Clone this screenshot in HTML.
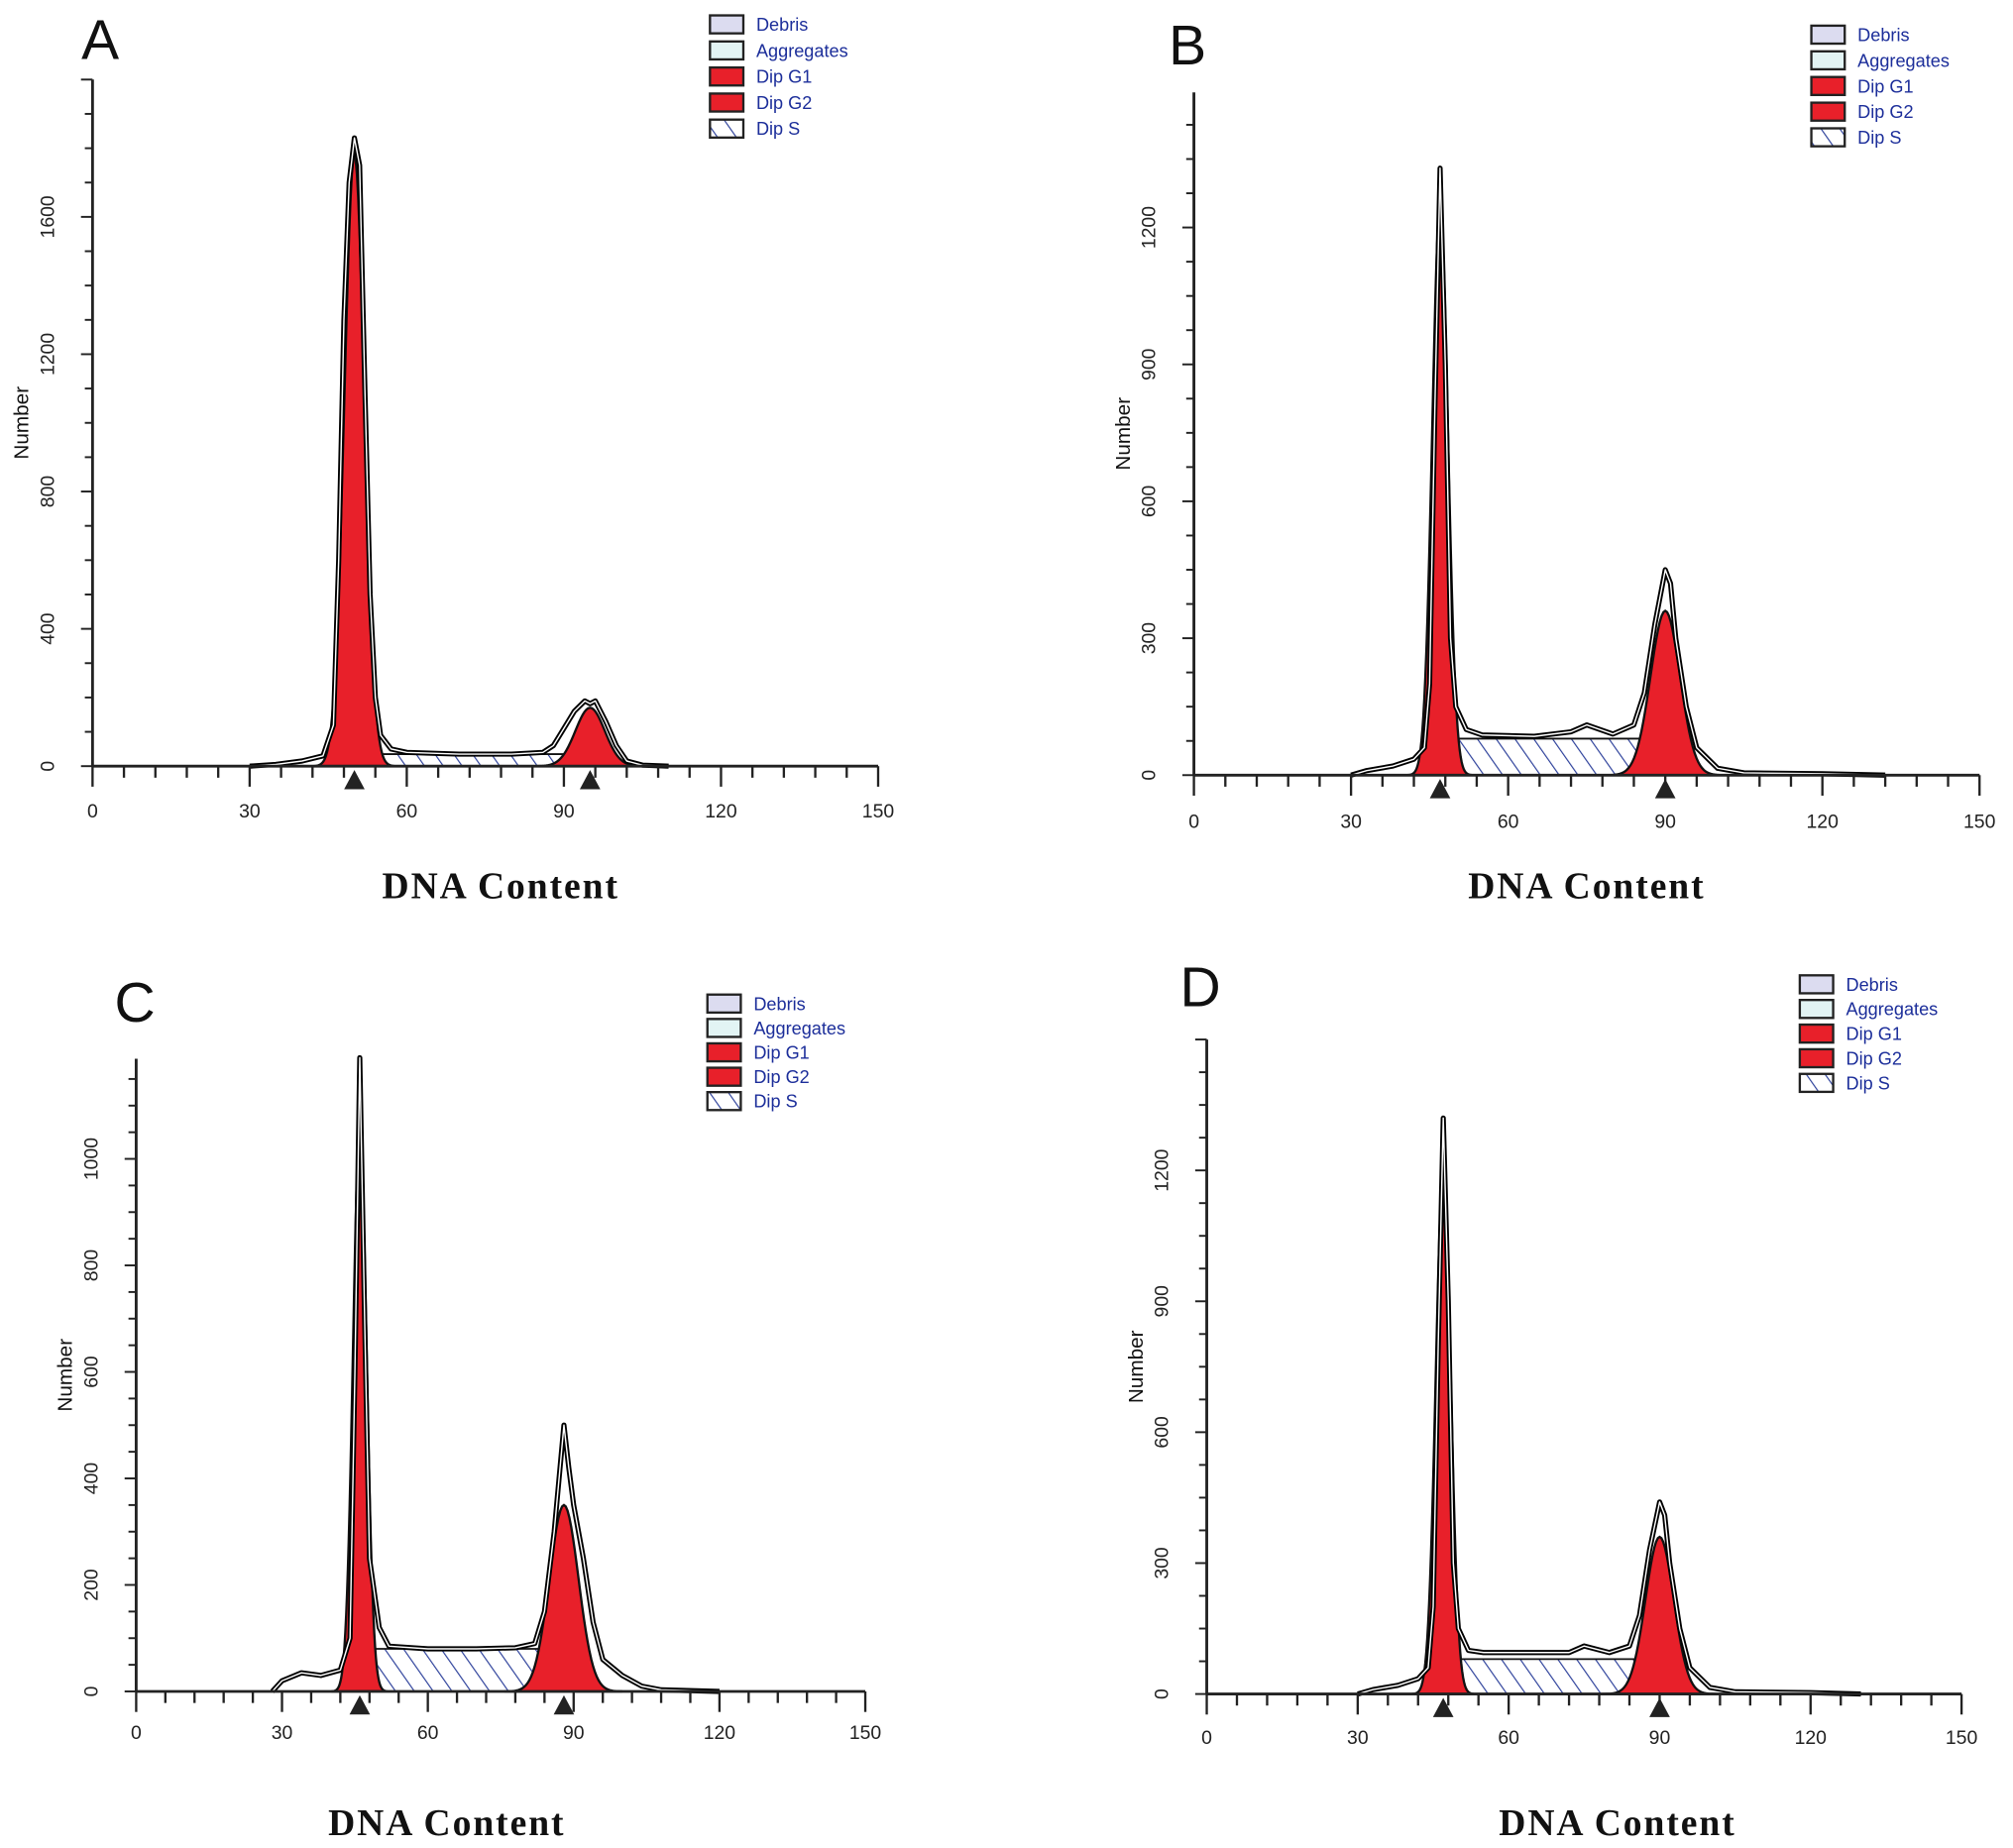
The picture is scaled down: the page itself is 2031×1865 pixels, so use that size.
<!DOCTYPE html>
<html><head><meta charset="utf-8">
<style>
html,body{margin:0;padding:0;background:#fff;}
svg{display:block;}
</style></head>
<body>
<svg id="fig" xmlns="http://www.w3.org/2000/svg" width="2031" height="1865" viewBox="0 0 1568 1440">
<defs>
<pattern id="hatch" patternUnits="userSpaceOnUse" width="12" height="12" patternTransform="rotate(-35)">
<rect width="12" height="12" fill="#fff"/>
<line x1="0" y1="0" x2="0" y2="12" stroke="#2b3f9a" stroke-width="1.8"/>
</pattern>
</defs>
</svg>
<script>
// ---- data ----
const panelIds = ['A','B','C','D'];
const xTicks = [0,30,60,90,120,150];
const yTicksA = [0,400,800,1200,1600];
const yTicksB = [0,300,600,900,1200];
const yTicksC = [0,200,400,600,800,1000];
const yTicksD = [0,300,600,900,1200];
const legendLabels = ['Debris','Aggregates','Dip G1','Dip G2','Dip S'];
// Gaussian fit parameters [mean, height, sd]
const g1A = [50,1780,1.9], g2A = [95,170,2.8], sA = [52,92,35];
const g1B = [47,1250,1.5], g2B = [90,360,2.8], sB = [49,87,80];
const g1C = [46,1060,1.4], g2C = [88,350,3.0], sC = [49,83,80];
const g1D = [47,1200,1.5], g2D = [90,360,2.8], sD = [49,87,80];
// Histogram outlines [channel, count]
const histA = [[30,0],[35,5],[40,15],[44,30],[46,120],[47,600],[48,1300],[49,1700],[50,1830],[51,1750],[52,1100],[53,500],[54,200],[55,90],[57,50],[60,40],[70,35],[80,35],[86,40],[88,60],[90,110],[92,160],[94,190],[95,182],[96,190],[98,130],[100,60],[102,15],[105,3],[110,0]];
const histB = [[30,0],[33,10],[38,20],[42,35],[44,60],[45,200],[46,800],[47,1330],[48,900],[49,300],[50,150],[52,100],[55,88],[65,85],[72,95],[75,110],[80,90],[84,110],[86,180],[88,330],[90,450],[91,420],[92,300],[94,150],[96,60],[100,15],[105,5],[120,3],[132,0]];
const histC = [[28,0],[30,20],[34,35],[38,30],[42,40],[44,100],[45,600],[46,1190],[47,700],[48,250],[50,120],[52,85],[60,80],[70,80],[78,82],[82,90],[84,150],[86,300],[88,500],[89,420],[90,350],[92,250],[94,130],[96,60],[100,30],[104,10],[108,3],[120,0]];
const histD = [[30,0],[33,10],[38,20],[42,35],[44,60],[45,200],[46,800],[47,1320],[48,900],[49,300],[50,150],[52,100],[55,95],[65,95],[72,95],[75,110],[80,95],[84,110],[86,180],[88,330],[90,440],[91,410],[92,300],[94,150],[96,60],[100,15],[105,5],[120,3],[130,0]];

const dataSets = {
  A:{ticks:yTicksA,g1:g1A,g2:g2A,s:sA,hist:histA},
  B:{ticks:yTicksB,g1:g1B,g2:g2B,s:sB,hist:histB},
  C:{ticks:yTicksC,g1:g1C,g2:g2C,s:sC,hist:histC},
  D:{ticks:yTicksD,g1:g1D,g2:g2D,s:sD,hist:histD}
};
// ---- layout ----
const layout = {
  A:{x0:72,x1:684,y0:597,yTop:62,yMax:2000,tickY:632,title:[390,690],letter:[78,46],leg:[553,19,20.3]},
  B:{x0:930,x1:1542,y0:604,yTop:72,yMax:1496,tickY:640,title:[1236,690],letter:[925,50],leg:[1411,27,20]},
  C:{x0:106,x1:674,y0:1318,yTop:825,yMax:1188,tickY:1350,title:[348,1420],letter:[105,796],leg:[551,782,19]},
  D:{x0:940,x1:1528,y0:1320,yTop:810,yMax:1500,tickY:1354,title:[1260,1420],letter:[935,784],leg:[1402,767,19.2]}
};
const NS='http://www.w3.org/2000/svg';
const svg=document.getElementById('fig');
function mk(tag,attrs,parent){const e=document.createElementNS(NS,tag);for(const k in attrs)e.setAttribute(k,attrs[k]);(parent||svg).appendChild(e);return e;}
function gauss(p,x){return p[1]*Math.exp(-0.5*Math.pow((x-p[0])/p[2],2));}

panelIds.forEach(id=>{
  const d=dataSets[id], L=layout[id];
  const g=mk('g',{});
  
  
  const sx=v=>L.x0+(L.x1-L.x0)*v/150;
  const sy=v=>L.y0-(L.y0-L.yTop)*v/L.yMax;
  // S phase hatched
  let sp='M'+sx(d.s[0]-3)+','+sy(0);
  for(let x=d.s[0]-3;x<=d.s[1]+3;x+=0.5){let v=d.s[2];if(x<d.s[0])v=d.s[2]*(x-d.s[0]+3)/3;if(x>d.s[1])v=d.s[2]*(d.s[1]+3-x)/3;sp+=' L'+sx(x)+','+sy(v);}
  sp+=' Z';
  const sEl=mk('path',{d:sp,fill:'url(#hatch)',stroke:'#111','stroke-width':1.4},g);
  
  
  // G1 and G2
  [['g1',d.g1],['g2',d.g2]].forEach(([nm,p])=>{
    let path='M'+sx(p[0]-4*p[2])+','+sy(0);
    for(let x=p[0]-4*p[2];x<=p[0]+4*p[2];x+=p[2]/8)path+=' L'+sx(x)+','+sy(gauss(p,x));
    path+=' Z';
    const e=mk('path',{d:path,fill:'#e8202a',stroke:'#111','stroke-width':1.8},g);
    
    
  });
  // histogram outline
  let hp=d.hist.map((pt,i)=>(i?'L':'M')+sx(pt[0])+','+sy(pt[1])).join(' ');
  const h1=mk('path',{d:hp,fill:'none',stroke:'#000','stroke-width':4,'stroke-linejoin':'round'},g);
  
  
  const h2=mk('path',{d:hp,fill:'none',stroke:'#fff','stroke-width':1.1,'stroke-linejoin':'round'},g);
  
  
  // axes
  const ax=mk('line',{x1:L.x0,y1:L.y0,x2:L.x1,y2:L.y0,stroke:'#222','stroke-width':2.2},g);
  
  
  const ay=mk('line',{x1:L.x0,y1:L.y0,x2:L.x0,y2:L.yTop,stroke:'#222','stroke-width':2.2},g);
  
  
  for(let v=0;v<=150;v+=6){const major=v%30===0;mk('line',{x1:sx(v),y1:L.y0,x2:sx(v),y2:L.y0+(major?16:9),stroke:'#222','stroke-width':1.8},g);}
  xTicks.forEach(v=>{const t=mk('text',{x:sx(v),y:L.tickY+5,'text-anchor':'middle','font-family':'Liberation Sans, sans-serif','font-size':15,fill:'#222'},g);t.textContent=v;
    
    });
  const step=d.ticks[1]-d.ticks[0];
  for(let v=0;v<=L.yMax;v+=step/4){const major=Math.abs(v/step-Math.round(v/step))<1e-6;mk('line',{x1:L.x0,y1:sy(v),x2:L.x0-(major?9:6),y2:sy(v),stroke:'#222','stroke-width':1.5},g);}
  d.ticks.forEach(v=>{const t=mk('text',{x:0,y:0,transform:'translate('+(L.x0-30)+','+sy(v)+') rotate(-90)','text-anchor':'middle','font-family':'Liberation Sans, sans-serif','font-size':15,fill:'#222'},g);t.textContent=v;
    
    });
  const yl=mk('text',{transform:'translate('+(L.x0-50)+','+((L.y0+L.yTop)/2)+') rotate(-90)','text-anchor':'middle','font-family':'Liberation Sans, sans-serif','font-size':16,fill:'#111'},g);yl.textContent='Number';
  
  
  // markers
  [d.g1[0],d.g2[0]].forEach(m=>{const tr=mk('path',{d:'M'+(sx(m)-8)+','+(L.y0+18)+' L'+sx(m)+','+(L.y0+3)+' L'+(sx(m)+8)+','+(L.y0+18)+' Z',fill:'#222'},g);
    
    });
  const tt=mk('text',{x:L.title[0],y:L.title[1]+10,'text-anchor':'middle','font-family':'Liberation Serif, serif','font-weight':'bold','font-size':29,'letter-spacing':1.5,fill:'#111'},g);tt.textContent='DNA Content';
  
  
  const lt=mk('text',{x:L.letter[0],y:L.letter[1],'text-anchor':'middle','font-family':'Liberation Sans, sans-serif','font-size':44,fill:'#111'},g);lt.textContent=id;
  
  
  // legend
  const fills=['#dcdcf0','#e2f4f4','#e8202a','#e8202a','url(#hatch)'];
  legendLabels.forEach((lab,i)=>{
    const y=L.leg[1]+i*L.leg[2];
    const b=mk('rect',{x:L.leg[0],y:y-7,width:26,height:14,fill:fills[i],stroke:'#222','stroke-width':1.8},g);
    
    
    const t=mk('text',{x:L.leg[0]+36,y:y+5,'font-family':'Liberation Sans, sans-serif','font-size':14,fill:'#1c2e9a'},g);t.textContent=lab;
    
    
  });
});
</script>
</body></html>
